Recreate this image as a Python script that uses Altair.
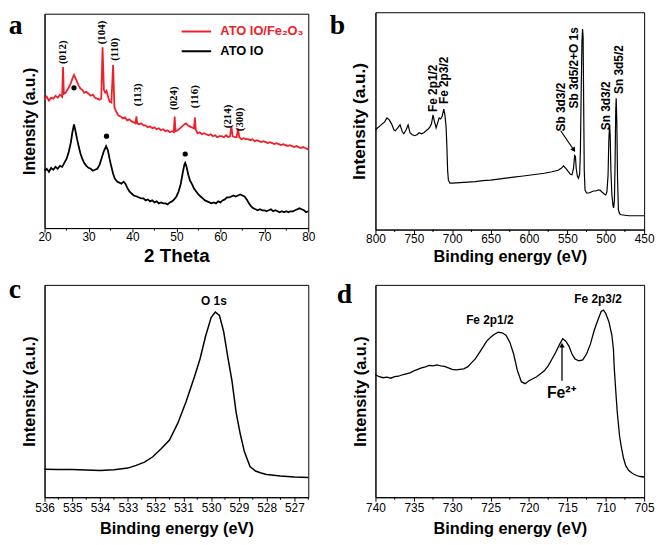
import altair as alt
import pandas as pd

SANS = "Liberation Sans"
SERIF = "Liberation Serif"
RED = "#f0202a"

# ---------------- Panel a : XRD ----------------
a_theta_red = [20, 20.5, 21, 21.5, 22, 22.5, 23, 23.5, 24, 24.2, 24.4, 24.8, 25.2, 25.6, 26, 26.4, 26.7, 27, 27.4, 27.8,
               28.2, 28.6, 29, 29.5, 30, 30.5, 31, 31.5, 32, 32.5, 32.9, 33.2, 33.5, 33.8, 34.1, 34.4, 34.8, 35.2, 35.6, 35.9,
               36.3, 36.8, 37.3, 37.8, 38.3, 38.8, 39.3, 39.8, 40.3, 40.7, 40.9, 41.1, 41.5, 42, 42.5, 43, 43.5, 44, 44.5, 45,
               45.5, 46, 46.5, 47, 47.5, 48, 48.5, 49, 49.4, 49.6, 49.8, 50.3, 50.8, 51.3, 51.8, 52.2, 52.6, 53, 53.5, 54,
               54.2, 54.4, 54.8, 55.3, 55.8, 56.3, 56.8, 57.3, 57.8, 58.3, 58.8, 59.3, 59.8, 60.3, 60.8, 61.3, 61.8, 62.2, 62.5, 62.8,
               63.3, 63.7, 64, 64.3, 64.8, 65.3, 65.8, 66.3, 66.8, 67.3, 67.8, 68.3, 68.8, 69.3, 69.8, 70.3, 70.8, 71.3, 71.8, 72.3,
               72.8, 73.3, 73.8, 74.3, 74.8, 75.3, 75.8, 76.3, 76.8, 77.3, 77.8, 78.3, 78.8, 79.3, 79.8, 80]
a_int_red = [130, 133, 129, 132, 131, 134, 132, 135, 133, 163, 136, 137, 140, 143, 147, 152, 155, 152, 148, 144,
             141, 140, 137, 138, 136, 134, 135, 132, 131, 130, 131, 183, 140, 137, 139, 134, 128, 127, 165, 122,
             118, 114, 113, 111, 112, 109, 110, 108, 107, 106, 113, 106, 105, 106, 104, 104, 102, 103, 101, 102,
             100, 101, 99, 100, 98, 99, 97, 98, 97, 113, 98, 99, 101, 103, 105, 106, 104, 103, 102, 101,
             112, 100, 96, 97, 95, 96, 95, 94, 95, 93, 94, 92, 93, 93, 92, 94, 92, 93, 103, 93,
             92, 92, 101, 92, 90, 91, 90, 90, 89, 90, 88, 89, 88, 87, 88, 87, 86, 87, 86, 85,
             86, 85, 84, 85, 84, 83, 84, 83, 82, 83, 82, 81, 82, 81, 80, 81]
a_theta_black = [20, 20.5, 21, 21.5, 22, 22.5, 23, 23.5, 24, 24.5, 25, 25.5, 26, 26.3, 26.7, 27, 27.4, 27.8, 28.2, 28.6,
                 29, 29.5, 30, 30.5, 31, 31.5, 32, 32.5, 33, 33.5, 34, 34.4, 34.8, 35.2, 35.6, 36, 36.5, 37, 37.5, 38,
                 38.4, 38.8, 39.3, 39.8, 40.3, 41, 41.5, 42, 42.5, 43, 43.5, 44, 44.5, 45, 45.5, 46, 46.5, 47, 47.5, 48,
                 48.5, 49, 49.5, 50, 50.5, 51, 51.4, 51.8, 52, 52.3, 52.7, 53.1, 53.6, 54, 54.5, 55, 55.5, 56, 56.5, 57,
                 57.5, 58, 58.5, 59, 59.5, 60, 60.5, 61, 61.5, 62, 62.5, 63, 63.5, 64, 64.5, 65, 65.5, 66, 66.5, 67,
                 67.5, 68, 68.5, 69, 69.5, 70, 70.5, 71, 71.5, 72, 72.5, 73, 73.5, 74, 74.5, 75, 75.5, 76, 76.5, 77,
                 77.5, 78, 78.5, 79, 79.5, 80]
a_int_black = [58, 60, 57, 61, 59, 62, 60, 63, 62, 66, 70, 77, 87, 96, 105, 99, 90, 82, 75, 70,
               66, 63, 61, 60, 58, 59, 60, 64, 71, 78, 83, 79, 70, 62, 55, 50, 47, 46, 45, 47,
               45, 41, 37, 35, 33, 32, 31, 30, 30, 28, 29, 27, 28, 26, 27, 25, 26, 25, 25, 24,
               26, 27, 29, 32, 37, 45, 55, 64, 66, 62, 54, 48, 44, 40, 37, 34, 32, 30, 28, 27,
               26, 25, 26, 25, 27, 26, 28, 29, 31, 31, 32, 33, 32, 33, 34, 33, 32, 29, 25, 22,
               20, 19, 18, 19, 18, 18, 17, 18, 19, 17, 18, 17, 16, 17, 16, 17, 16, 17, 17, 18,
               19, 20, 19, 18, 16, 17]
a_hkl_text = ["(012)", "(104)", "(110)", "(113)", "(024)", "(116)", "(214)", "(300)"]
a_hkl_x = [24.3, 33.0, 36.1, 41.3, 49.5, 54.3, 61.7, 64.5]
a_hkl_y = [178, 198, 181, 135, 131.5, 133, 113, 110]
a_dot_x = [26.7, 34.1, 52.0]
a_dot_y = [142, 93, 75]
a_leg_names = ["ATO IO/Fe\u2082O\u2083", "ATO IO"]
a_leg_colors = [RED, "black"]
a_leg_x1 = [51.2, 51.2]
a_leg_x2 = [57.9, 57.9]
a_leg_tx = [60.0, 60.0]
a_leg_y = [199, 179]
a_major = [20, 30, 40, 50, 60, 70, 80]
a_minor = [25, 35, 45, 55, 65, 75]

# ---------------- Panel b : XPS survey ----------------
b_energy = [800, 797, 794, 791, 788, 785, 782, 779, 776, 774, 771, 768, 765, 763, 760, 757.5, 755, 752, 749, 746,
            743, 740, 737, 734, 731, 729, 727, 725, 723, 721, 719, 717, 715, 713, 711, 709.5, 708, 707, 706, 705,
            703, 700, 690, 680, 670, 660, 650, 640, 630, 620, 610, 600, 590, 580, 570, 562, 558, 555, 552, 549,
            546, 544, 542, 540.5, 539.5, 538.5, 537, 535.5, 534, 533, 532, 531, 530.2, 529.5, 528.8, 528, 527, 525, 522, 519,
            516, 513, 510, 507.5, 505, 502, 500, 498.5, 497, 496, 495, 494.2, 493.3, 492, 490.5, 489.7, 488.7, 487.8, 487, 486.4,
            485.6, 484.6, 483.5, 482, 480, 475, 470, 460, 450]
b_counts = [101, 103, 105, 107, 109, 113, 111, 107, 101, 100, 103, 106, 99, 97, 101, 106, 98, 96, 95, 96,
            98, 97, 98, 100, 102, 104, 107, 116, 109, 103, 108, 113, 112, 115, 122, 116, 104, 85, 60, 50,
            47, 47, 47.5, 48, 48.5, 49.5, 50, 51, 52, 53, 54, 55, 56, 57, 58.5, 60, 62, 64.5, 62, 59,
            56, 55.5, 62, 75, 74, 62, 54, 52, 56, 80, 140, 190, 203, 195, 130, 60, 40, 37, 37, 38,
            39, 39, 40, 40, 38, 36, 35, 38, 55, 90, 106, 95, 60, 35, 24, 22, 30, 70, 120, 133,
            110, 50, 20, 16, 15, 14.5, 14, 14, 14]
b_lab_text = ["Fe 2p1/2", "Fe 2p3/2", "Sb 3d3/2", "Sb 3d5/2+O 1s", "Sn 3d3/2", "Sn 3d5/2"]
b_lab_x = [725.6, 710.5, 558.4, 541.1, 499.2, 482.9]
b_lab_y = [143, 151, 124, 163.7, 125.3, 162]
b_arrow_from = [558.7, 100]
b_arrow_to = [541.6, 80.5]
b_major = [450, 500, 550, 600, 650, 700, 750, 800]
b_minor = [475, 525, 575, 625, 675, 725, 775]

# ---------------- Panel c : O 1s ----------------
c_energy = [536.0, 535.5, 535.0, 534.5, 534.0, 533.5, 533.0, 532.7, 532.4, 532.1, 531.8, 531.5, 531.2, 530.9, 530.6,
            530.4, 530.2, 530.0, 529.85, 529.7, 529.55, 529.4, 529.25, 529.1, 528.95, 528.8, 528.6, 528.4, 528.2,
            528.0, 527.5, 527.0, 526.5]
c_counts = [28.3, 28.2, 28, 27.5, 27, 27.8, 29.5, 32.3, 35.5, 41, 49, 58, 75, 97, 122,
            140, 163, 182, 187.5, 184, 168, 142, 118, 86, 64, 46, 31, 26.5, 24.5,
            23, 21.5, 20.5, 20]
c_major = [527, 528, 529, 530, 531, 532, 533, 534, 535, 536]
c_minor = [526.5, 527.5, 528.5, 529.5, 530.5, 531.5, 532.5, 533.5, 534.5, 535.5]

# ---------------- Panel d : Fe 2p ----------------
d_energy = [740.0, 739.5, 739, 738.5, 738, 737.5, 737, 736.5, 736, 735.5, 735, 734.5, 734, 733.5, 733, 732.5, 732, 731.5,
            731, 730.5, 730, 729.5, 729, 728.5, 728, 727.5, 727, 726.5, 726, 725.5, 725, 724.5, 724, 723.5, 723, 722.5,
            722, 721.5, 721, 720.5, 720, 719.5, 719, 718.5, 718, 717.5, 717, 716.5, 716, 715.6, 715.2, 714.8, 714.4, 714,
            713.5, 713, 712.5, 712, 711.5, 711, 710.6, 710.3, 710, 709.6, 709.2, 709.0, 708.9, 708.7, 708.5, 708.2, 708,
            707.7, 707.4, 707, 706.5, 706, 705.5, 705]
d_counts = [124, 122, 121, 121.5, 120.5, 122, 122.5, 124, 125, 126, 128, 129.5, 131, 132, 133.5, 133, 134, 133,
            132.5, 131, 129.5, 129, 129.5, 130, 132, 136, 140, 146, 152, 158, 162, 165, 167, 166.5, 164, 157,
            145, 128, 117, 115, 118, 120, 122, 125, 128, 133, 140, 147, 155, 160.5, 158, 153, 145, 140,
            138, 139, 145, 155, 169, 180, 188, 189.5, 186, 178, 164, 150, 132, 108, 86, 62, 52,
            40, 32, 27, 24, 22, 21, 20.5]
d_major = [705, 710, 715, 720, 725, 730, 735, 740]
d_minor = [707.5, 712.5, 717.5, 722.5, 727.5, 732.5, 737.5]
d_lab_text = ["Fe 2p1/2", "Fe 2p3/2"]
d_lab_x = [725.1, 711.0]
d_lab_y = [179, 201]
d_fe2_x = [715.8]
d_fe2_y = [105.7]
d_arrow_x = [715.7]
d_arrow_y1 = [118]
d_arrow_y2 = [154]


def x_axis(title, values, title_size, label_pad, title_pad):
    return alt.Axis(
        title=title, values=values, format="d", tickSize=4,
        tickColor="black", tickWidth=1, domainColor="black", domainWidth=1,
        labelColor="black", labelFont=SANS, labelFontSize=12, labelPadding=label_pad,
        labelOverlap=False, labelFlush=False, grid=False,
        titleFont=SANS, titleFontSize=title_size, titleFontWeight="bold",
        titleColor="black", titlePadding=title_pad,
    )


def y_axis(title_size):
    return alt.Axis(title="Intensity (a.u.)", labels=False, ticks=False, grid=False,
                    domainColor="black", titleFont=SANS, titleFontSize=title_size,
                    titleFontWeight="bold", titleColor="black", titlePadding=7)


def letter_layer(ch, dx, dy):
    return alt.Chart(pd.DataFrame({"t": [ch]})).mark_text(
        font=SERIF, fontWeight="bold", fontSize=28, align="left", baseline="alphabetic", color="black"
    ).encode(x=alt.value(dx), y=alt.value(dy), text="t:N")


def minor_layer(vals, X, h):
    return alt.Chart(pd.DataFrame({"x": vals})).mark_rule(color="black", strokeWidth=1).encode(
        x=X, y=alt.value(h), y2=alt.value(h + 2.5))


# ---- panel a ----
ax_a = x_axis("2 Theta", a_major, 19, 0, 4)
xs_a = alt.Scale(domain=[20, 80], nice=False, zero=False)
ys_a = alt.Scale(domain=[0, 217], nice=False, zero=False)
XA = alt.X("x:Q", scale=xs_a, axis=ax_a)
YA = alt.Y("y:Q", scale=ys_a, axis=y_axis(16))

dfa_r = pd.DataFrame({"x": a_theta_red, "y": a_int_red})
dfa_k = pd.DataFrame({"x": a_theta_black, "y": a_int_black})
dfa_h = pd.DataFrame({"x": a_hkl_x, "y": a_hkl_y, "t": a_hkl_text})
dfa_d = pd.DataFrame({"x": a_dot_x, "y": a_dot_y})
dfa_l = pd.DataFrame({"x": a_leg_x1, "x2": a_leg_x2, "tx": a_leg_tx, "y": a_leg_y,
                      "name": a_leg_names, "c": a_leg_colors})

pa = alt.layer(
    alt.Chart(dfa_k).mark_line(color="black", strokeWidth=1.8).encode(x=XA, y=YA),
    alt.Chart(dfa_r).mark_line(color=RED, strokeWidth=1.8).encode(x=XA, y=YA),
    alt.Chart(dfa_h).mark_text(angle=270, font=SERIF, fontWeight="bold", fontSize=11, color="black",
                               align="center", baseline="middle").encode(x=XA, y=YA, text="t:N"),
    alt.Chart(dfa_d).mark_circle(size=28, color="black", opacity=1).encode(x=XA, y=YA),
    alt.Chart(dfa_l).mark_rule(strokeWidth=2).encode(x=XA, x2="x2:Q", y=YA,
                                                      color=alt.Color("c:N", scale=None)),
    alt.Chart(dfa_l).mark_text(font=SANS, fontWeight="bold", fontSize=13, align="left",
                               baseline="middle").encode(x=alt.X("tx:Q", scale=xs_a, axis=ax_a), y=YA,
                                                         text="name:N", color=alt.Color("c:N", scale=None)),
    minor_layer(a_minor, XA, 217),
    letter_layer("a", -36.3, 21),
).properties(width=267, height=217)

# ---- panel b ----
ax_b = x_axis("Binding energy (eV)", b_major, 16.5, 0, 4)
xs_b = alt.Scale(domain=[450, 800], reverse=True, nice=False, zero=False)
ys_b = alt.Scale(domain=[0, 220], nice=False, zero=False)
XB = alt.X("x:Q", scale=xs_b, axis=ax_b)
YB = alt.Y("y:Q", scale=ys_b, axis=y_axis(17.5))
dfb = pd.DataFrame({"x": b_energy, "y": b_counts})
dfb_l = pd.DataFrame({"x": b_lab_x, "y": b_lab_y, "t": b_lab_text})
dfb_a = pd.DataFrame({"x": [b_arrow_from[0]], "y": [b_arrow_from[1]],
                      "x2": [b_arrow_to[0]], "y2": [b_arrow_to[1]]})
dfb_h = pd.DataFrame({"x": [b_arrow_to[0]], "y": [b_arrow_to[1]]})
pb = alt.layer(
    alt.Chart(dfb).mark_line(color="black", strokeWidth=1.2).encode(x=XB, y=YB),
    alt.Chart(dfb_l).mark_text(angle=270, font=SANS, fontWeight="bold", fontSize=12, color="black",
                               align="center", baseline="middle").encode(x=XB, y=YB, text="t:N"),
    alt.Chart(dfb_a).mark_rule(color="black", strokeWidth=1.2).encode(x=XB, y=YB, x2="x2:Q", y2="y2:Q"),
    alt.Chart(dfb_h).mark_point(shape="triangle-up", filled=True, color="black", size=30, angle=146,
                                opacity=1).encode(x=XB, y=YB),
    minor_layer(b_minor, XB, 220),
    letter_layer("b", -46.3, 22),
).properties(width=272, height=220)

# ---- panel c ----
ax_c = x_axis("Binding energy (eV)", c_major, 16.5, 1, 8)
xs_c = alt.Scale(domain=[526.5, 536], reverse=True, nice=False, zero=False)
ys_c = alt.Scale(domain=[0, 215], nice=False, zero=False)
XC = alt.X("x:Q", scale=xs_c, axis=ax_c)
YC = alt.Y("y:Q", scale=ys_c, axis=y_axis(16.5))
dfc = pd.DataFrame({"x": c_energy, "y": c_counts})
dfc_l = pd.DataFrame({"x": [529.9], "y": [198.3], "t": ["O 1s"]})
pc = alt.layer(
    alt.Chart(dfc).mark_line(color="black", strokeWidth=1.5).encode(x=XC, y=YC),
    alt.Chart(dfc_l).mark_text(font=SANS, fontWeight="bold", fontSize=12, color="black",
                               align="center", baseline="middle").encode(x=XC, y=YC, text="t:N"),
    minor_layer(c_minor, XC, 215),
    letter_layer("c", -36.3, 13),
).properties(width=267, height=215)

# ---- panel d ----
ax_d = x_axis("Binding energy (eV)", d_major, 16.5, 1, 8)
xs_d = alt.Scale(domain=[705, 740], reverse=True, nice=False, zero=False)
ys_d = alt.Scale(domain=[0, 215], nice=False, zero=False)
XD = alt.X("x:Q", scale=xs_d, axis=ax_d)
YD = alt.Y("y:Q", scale=ys_d, axis=y_axis(16.5))
dfd = pd.DataFrame({"x": d_energy, "y": d_counts})
dfd_l = pd.DataFrame({"x": d_lab_x, "y": d_lab_y, "t": d_lab_text})
dfd_f = pd.DataFrame({"x": d_fe2_x, "y": d_fe2_y, "t": ["Fe\u00b2\u207a"]})
dfd_a = pd.DataFrame({"x": d_arrow_x, "y": d_arrow_y1, "y2": d_arrow_y2})
dfd_h = pd.DataFrame({"x": d_arrow_x, "y": d_arrow_y2})
pd_ = alt.layer(
    alt.Chart(dfd).mark_line(color="black", strokeWidth=1.3).encode(x=XD, y=YD),
    alt.Chart(dfd_l).mark_text(font=SANS, fontWeight="bold", fontSize=12, color="black",
                               align="center", baseline="middle").encode(x=XD, y=YD, text="t:N"),
    alt.Chart(dfd_f).mark_text(font=SANS, fontWeight="bold", fontSize=16, color="black",
                               align="center", baseline="middle").encode(x=XD, y=YD, text="t:N"),
    alt.Chart(dfd_a).mark_rule(color="black", strokeWidth=1.3).encode(x=XD, y=YD, y2="y2:Q"),
    alt.Chart(dfd_h).mark_point(shape="triangle-up", filled=True, color="black", size=30,
                                opacity=1).encode(x=XD, y=YD),
    minor_layer(d_minor, XD, 215),
    letter_layer("d", -39.3, 18),
).properties(width=272, height=215)

chart = alt.concat(pa, pb, pc, pd_, columns=2, spacing={"row": 56, "column": 68},
                   bounds="flush", center=True).properties(
    padding=0, background="white"
).configure_view(stroke="black", strokeWidth=1)

chart.save("out.html", embed_options={"renderer": "svg", "actions": False})
